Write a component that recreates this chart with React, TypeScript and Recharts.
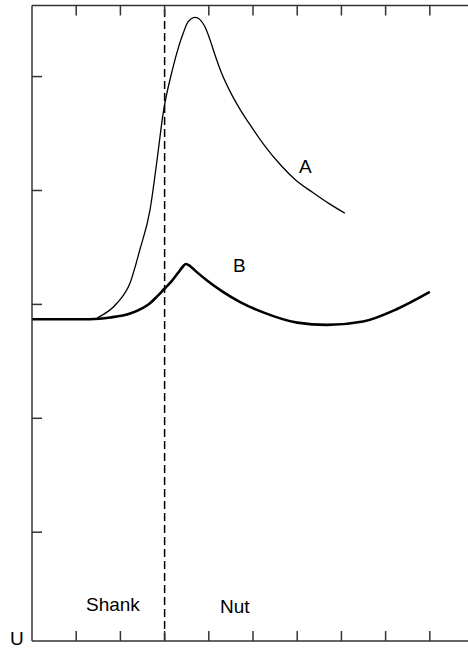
import React from 'react';
import { LineChart, Line, XAxis, YAxis, ReferenceLine } from 'recharts';

// curve A (thin): x and y in tick units
const curveAX = [1.47, 1.92, 2.22, 2.44, 2.67, 2.83, 2.96, 3.19, 3.42, 3.53, 3.69, 3.8, 3.91, 4.03, 4.14, 4.3, 4.48, 4.71, 4.98, 5.27, 5.61, 5.97, 6.36, 6.74, 7.08];
const curveAY = [2.88, 3.01, 3.19, 3.48, 3.83, 4.27, 4.66, 5.08, 5.38, 5.48, 5.52, 5.5, 5.44, 5.32, 5.19, 5.02, 4.87, 4.71, 4.55, 4.39, 4.23, 4.09, 3.98, 3.88, 3.8];

// curve B (thick)
const curveBX = [0, 0.63, 1.31, 1.77, 2.22, 2.51, 2.67, 2.83, 2.99, 3.15, 3.3, 3.42, 3.48, 3.58, 3.71, 3.96, 4.32, 4.71, 5.23, 6.0, 6.67, 7.49, 8.26, 9.0];
const curveBY = [2.87, 2.87, 2.87, 2.885, 2.92, 2.97, 3.01, 3.07, 3.135, 3.2, 3.275, 3.335, 3.355, 3.335, 3.29, 3.21, 3.11, 3.02, 2.93, 2.84, 2.82, 2.85, 2.96, 3.11];

const xTicks = [1, 2, 3, 4, 5, 6, 7, 8, 9];
const yTicks = [1, 2, 3, 4, 5];
const boundaryX = 3;

const dataA = curveAX.map((x, i) => ({ x, y: curveAY[i] }));
const dataB = curveBX.map((x, i) => ({ x, y: curveBY[i] }));

const labelStyle: React.CSSProperties = {
  position: 'absolute',
  fontFamily: '"Liberation Sans", Arial, sans-serif',
  fontSize: 19,
  lineHeight: 1,
  color: '#000',
};

// tick marks only, no tick text
const NoLabel = () => <g />;

// negative tickSize draws the tick marks inward
const axisProps = {
  type: 'number' as const,
  stroke: '#333',
  strokeWidth: 1.5,
  tick: NoLabel,
  tickLine: { stroke: '#333', strokeWidth: 1.5 },
  tickSize: -10,
  allowDataOverflow: true,
};

export default function App() {
  return (
    <div style={{ position: 'absolute', left: 0, top: 0, width: 468, height: 648, overflow: 'hidden', background: '#fff' }}>
      <LineChart width={490} height={648} margin={{ top: 4.5, right: 11, bottom: 6, left: 31 }}>
        <XAxis {...axisProps} xAxisId="b" dataKey="x" domain={[0, 10.09]} ticks={xTicks} height={1} orientation="bottom" />
        <XAxis {...axisProps} xAxisId="t" dataKey="x" domain={[0, 10.09]} ticks={xTicks} height={1} orientation="top" />
        <YAxis {...axisProps} yAxisId="l" dataKey="y" domain={[0.045, 5.624]} ticks={yTicks} width={1} orientation="left" />
        <YAxis {...axisProps} yAxisId="r" dataKey="y" domain={[0.045, 5.624]} ticks={yTicks} width={1} orientation="right" />
        <ReferenceLine xAxisId="b" yAxisId="l" x={boundaryX} stroke="#000" strokeWidth={1.5} strokeDasharray="8 4" />
        <Line xAxisId="b" yAxisId="l" data={dataA} dataKey="y" type="monotone" stroke="#000" strokeWidth={1.3} dot={false} isAnimationActive={false} />
        <Line xAxisId="b" yAxisId="l" data={dataB} dataKey="y" type="monotone" stroke="#000" strokeWidth={2.6} dot={false} isAnimationActive={false} />
      </LineChart>
      <span style={{ ...labelStyle, left: 299, top: 157 }}>A</span>
      <span style={{ ...labelStyle, left: 233, top: 256 }}>B</span>
      <span style={{ ...labelStyle, left: 86, top: 595 }}>Shank</span>
      <span style={{ ...labelStyle, left: 220, top: 597 }}>Nut</span>
      <span style={{ ...labelStyle, left: 10, top: 629 }}>U</span>
    </div>
  );
}
